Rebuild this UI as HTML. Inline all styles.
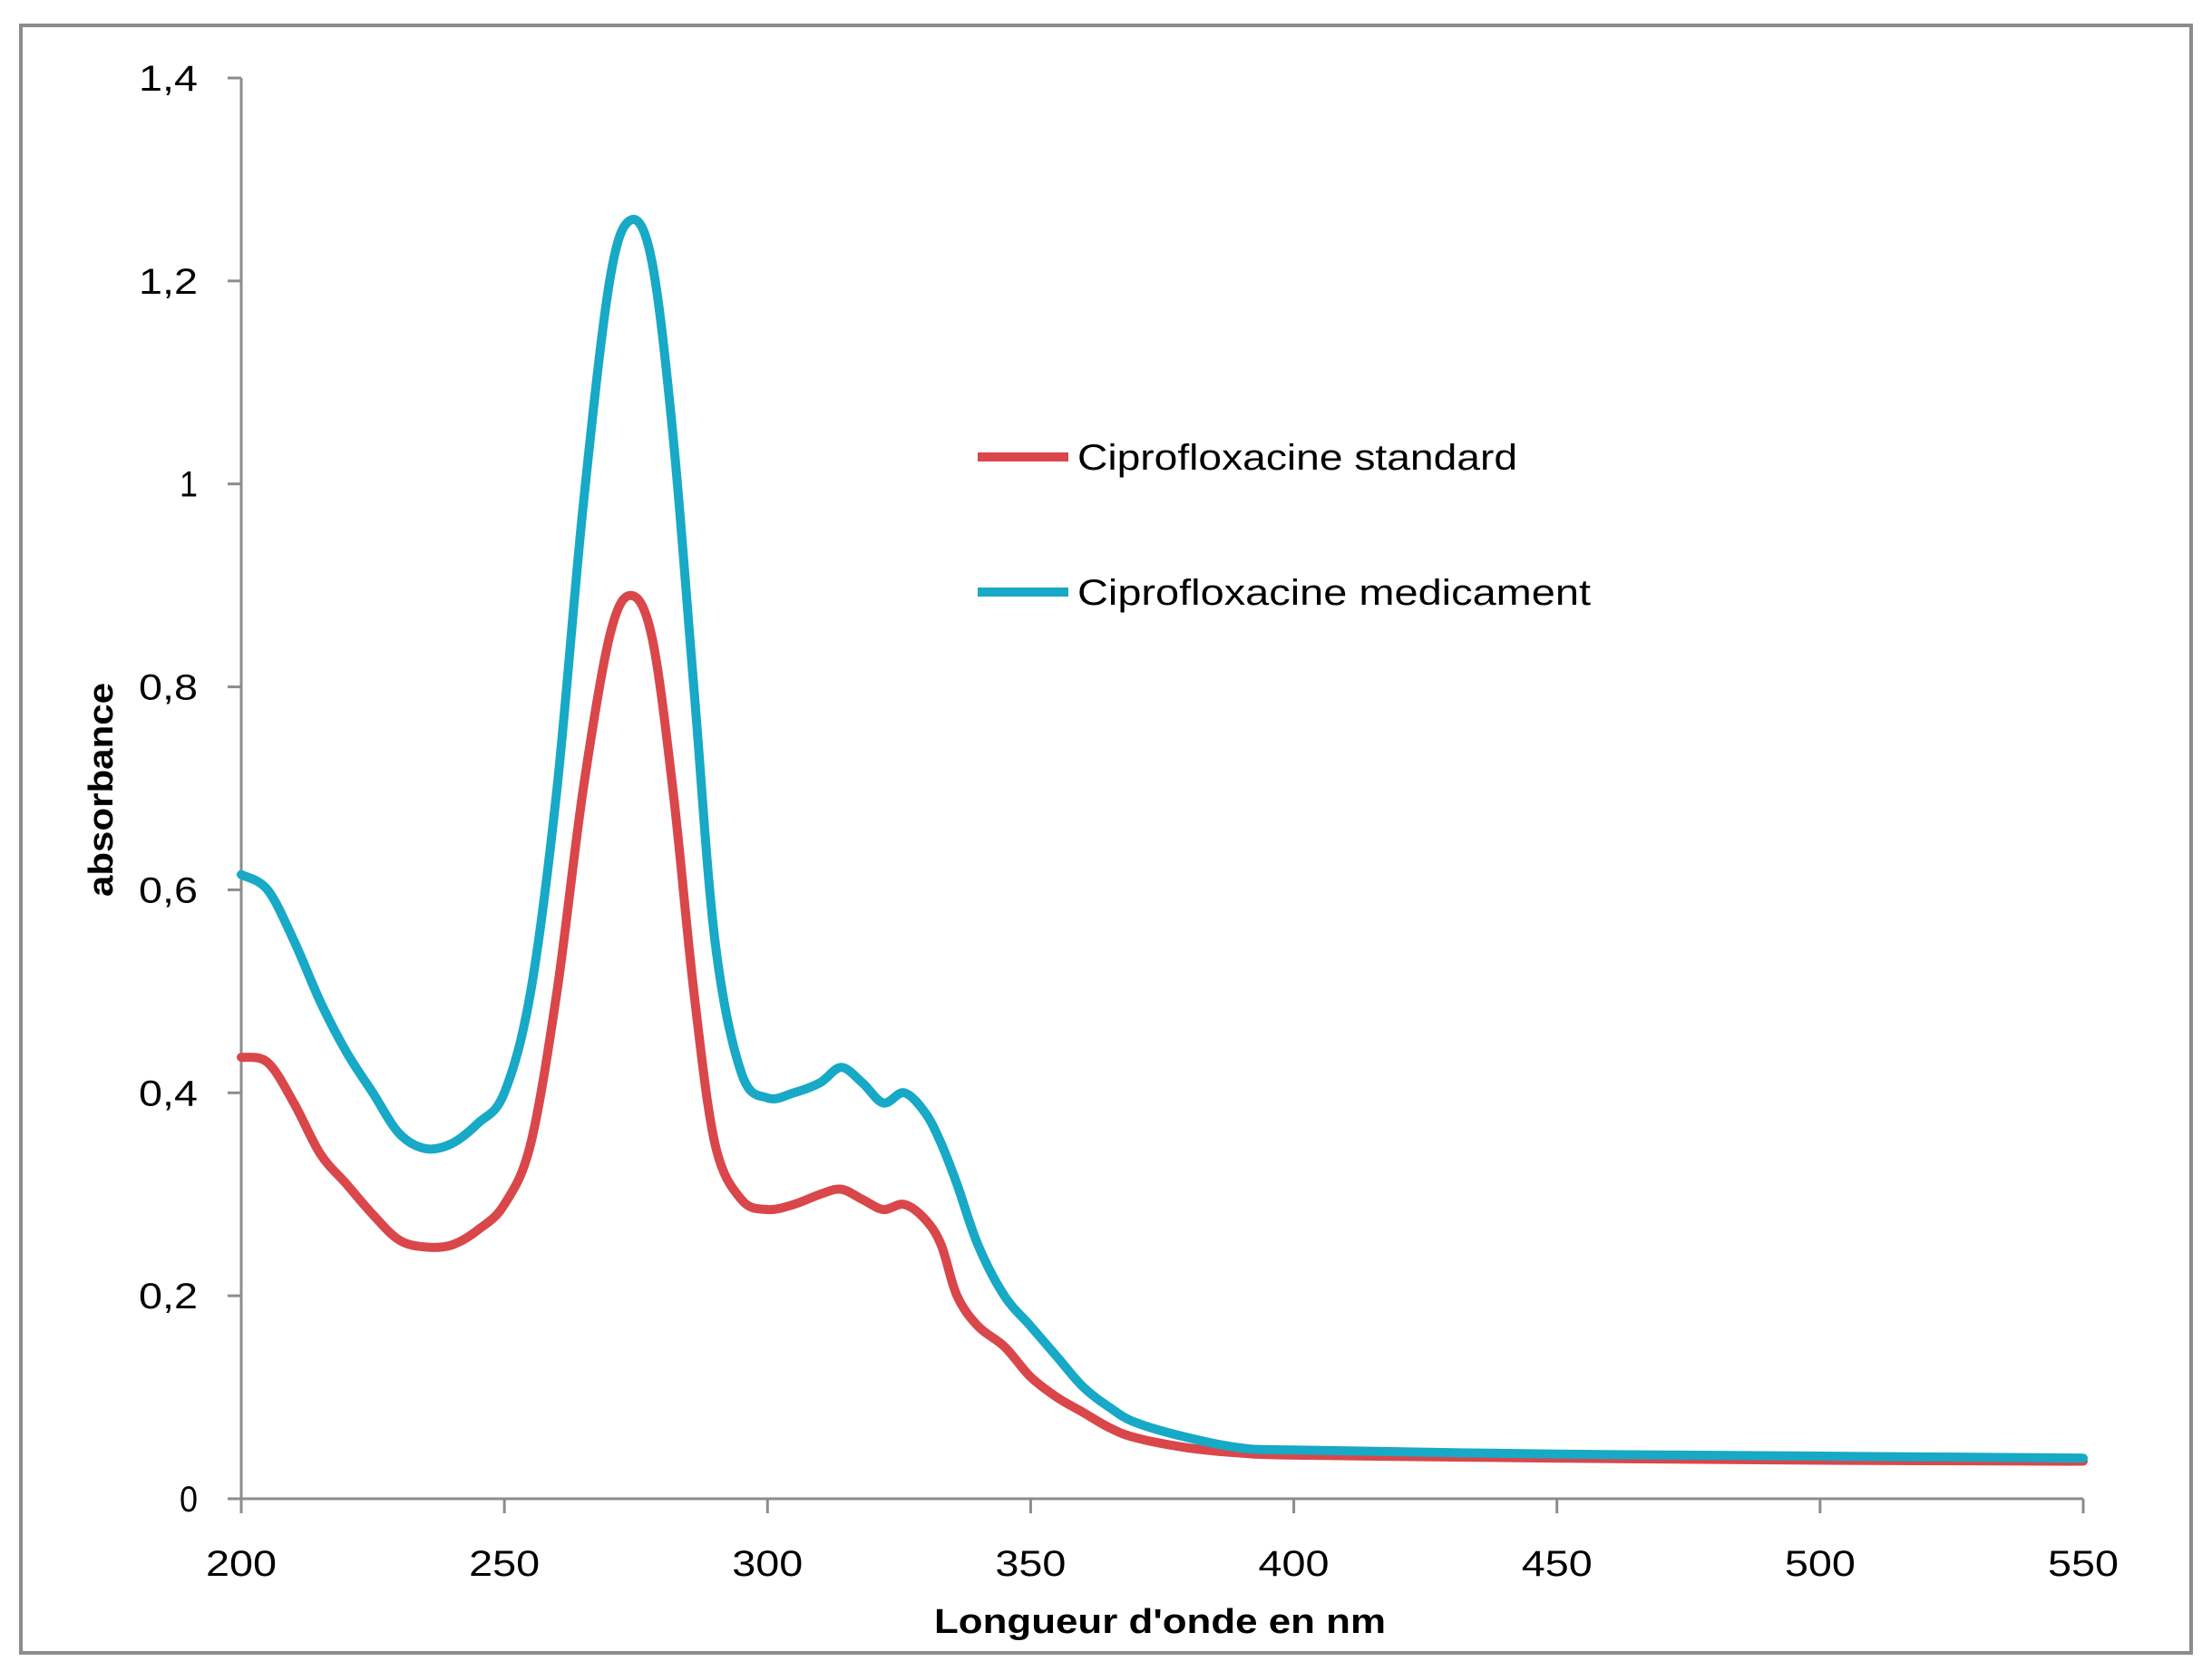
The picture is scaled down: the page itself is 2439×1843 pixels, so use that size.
<!DOCTYPE html>
<html><head><meta charset="utf-8"><style>
html,body{margin:0;padding:0;background:#fff;}
svg{display:block;font-family:"Liberation Sans",Arial,sans-serif;}
</style></head><body>
<svg id="chart" width="2439" height="1843" viewBox="0 0 2439 1843">
<rect x="23" y="28" width="2393" height="1795" fill="#fff" stroke="#8c8c8c" stroke-width="4"/>
<g id="axes"></g>
<g id="series"></g>
<g>
<line x1="1078" y1="504" x2="1178" y2="504" stroke="#d9474a" stroke-width="10"/>
<text x="1188" y="518" font-size="40" fill="#000" textLength="485" lengthAdjust="spacingAndGlyphs">Ciprofloxacine standard</text>
<line x1="1078" y1="653" x2="1178" y2="653" stroke="#17a9c6" stroke-width="10"/>
<text x="1188" y="667" font-size="40" fill="#000" textLength="566" lengthAdjust="spacingAndGlyphs">Ciprofloxacine medicament</text>
</g>
<text x="1279" y="1801" font-size="38" font-weight="bold" text-anchor="middle" textLength="498" lengthAdjust="spacingAndGlyphs">Longueur d'onde en nm</text>
<text transform="translate(124,871) rotate(-90)" font-size="38" font-weight="bold" text-anchor="middle" textLength="236" lengthAdjust="spacingAndGlyphs">absorbance</text>
</svg>
<script>
const xTicks=[200,250,300,350,400,450,500,550];
const yTicks=[0,0.2,0.4,0.6,0.8,1,1.2,1.4];
const yTickLabels=["0","0,2","0,4","0,6","0,8","1","1,2","1,4"];
const wavelengths=[200,205,210,215,220,225,230,235,240,245,250,255,260,265,270,274,278,282,286,290,295,300,305,310,314,318,322,326,330,333,336,340,345,350,355,360,365,370,380,390,400,450,500,550];
const medicament=[0.615,0.6,0.55,0.49,0.44,0.4,0.36,0.345,0.35,0.37,0.4,0.5,0.7,0.98,1.2,1.26,1.22,1.05,0.8,0.55,0.42,0.395,0.4,0.41,0.425,0.41,0.39,0.4,0.38,0.35,0.31,0.25,0.2,0.17,0.14,0.11,0.09,0.075,0.06,0.05,0.048,0.044,0.042,0.04];
const standard=[0.435,0.43,0.39,0.34,0.31,0.28,0.255,0.248,0.25,0.265,0.29,0.35,0.5,0.7,0.85,0.89,0.85,0.7,0.5,0.35,0.295,0.285,0.29,0.3,0.305,0.295,0.285,0.29,0.275,0.25,0.2,0.17,0.15,0.12,0.1,0.085,0.07,0.06,0.05,0.045,0.043,0.04,0.038,0.037];
const NS='http://www.w3.org/2000/svg';
const X0=266,X1=2297,Y0=1653,Y1=86;
function sx(v){return X0+(v-200)/350*(X1-X0);}
function sy(v){return Y0-v/1.4*(Y0-Y1);}
function mk(tag,attrs,parent){const e=document.createElementNS(NS,tag);for(const k in attrs)e.setAttribute(k,attrs[k]);parent.appendChild(e);return e;}
const axes=document.getElementById('axes');
let a=mk('line',{x1:X0,y1:Y1,x2:X0,y2:Y0,stroke:'#8c8c8c','stroke-width':3},axes);


a=mk('line',{x1:X0,y1:Y0,x2:X1,y2:Y0,stroke:'#8c8c8c','stroke-width':3},axes);


yTicks.forEach((v,i)=>{
  const t=mk('line',{x1:X0-15,y1:sy(v),x2:X0,y2:sy(v),stroke:'#8c8c8c','stroke-width':3},axes);
  
  
  const s=yTickLabels[i];
  const len=s.length===1?20:65;
  const l=mk('text',{x:218,y:sy(v)+14,'font-size':40,'text-anchor':'end',textLength:len,lengthAdjust:'spacingAndGlyphs'},axes);
  l.textContent=s;
  
  
});
xTicks.forEach(v=>{
  const t=mk('line',{x1:sx(v),y1:Y0,x2:sx(v),y2:Y0+16,stroke:'#8c8c8c','stroke-width':3},axes);
  
  
  const l=mk('text',{x:sx(v),y:1738,'font-size':40,'text-anchor':'middle',textLength:78,lengthAdjust:'spacingAndGlyphs'},axes);
  l.textContent=String(v);
  
  
});
const series=document.getElementById('series');
function draw(vals,color,name){
  const pts=vals.map((v,i)=>[sx(wavelengths[i]),sy(v)]);
  let d='M'+pts[0][0].toFixed(1)+','+pts[0][1].toFixed(1);
  for(let i=0;i<pts.length-1;i++){
    const p0=pts[Math.max(0,i-1)],p1=pts[i],p2=pts[i+1],p3=pts[Math.min(pts.length-1,i+2)];
    const c1=[p1[0]+(p2[0]-p0[0])/6,p1[1]+(p2[1]-p0[1])/6];
    const c2=[p2[0]-(p3[0]-p1[0])/6,p2[1]-(p3[1]-p1[1])/6];
    d+=' C'+c1[0].toFixed(1)+','+c1[1].toFixed(1)+' '+c2[0].toFixed(1)+','+c2[1].toFixed(1)+' '+p2[0].toFixed(1)+','+p2[1].toFixed(1);
  }
  const p=mk('path',{d:d,fill:'none',stroke:color,'stroke-width':10,'stroke-linejoin':'round','stroke-linecap':'round'},series);
  
  
}
draw(standard,'#d9474a','series-standard');
draw(medicament,'#17a9c6','series-medicament');
</script>
</body></html>
